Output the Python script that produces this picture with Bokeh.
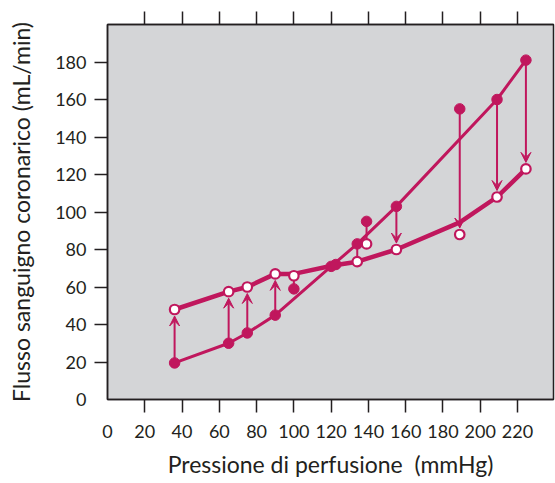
from bokeh.plotting import figure
from bokeh.models import (ColumnDataSource, FixedTicker, LinearAxis, Arrow,
                          VeeHead, Range1d)
from bokeh.embed import file_html
from bokeh.resources import INLINE

# ---- data ----
pressure  = [36, 65, 75, 90, 100, 120, 134, 139, 155, 189, 209, 224.5]
immediate = [19.5, 30, 35.5, 45, 59, 71, 83, 95, 103, 155, 160, 181]
steady    = [48, 57.5, 60, 67, 66, 71.5, 73.5, 83, 80, 88, 108, 123]

imm_line_x = [36, 65, 75, 90, 120, 134, 155, 209, 224.5]
imm_line_y = [19.5, 30, 35.5, 45, 71, 83, 103, 160, 181]
ss_line_x = [36, 65, 75, 90, 100, 121, 134, 155, 189, 209, 224.5]
ss_line_y = [48, 57.5, 60, 67, 67, 71.5, 73.5, 80, 94.5, 108, 123]

cross_x = [122.5]
cross_y = [72]

x_labels = [0, 20, 40, 60, 80, 100, 120, 140, 160, 180, 200, 220]
x_marks = [20, 40, 60, 80, 100, 120, 140, 160, 180, 200, 220]
y_labels = [0, 20, 40, 60, 80, 100, 120, 140, 160, 180]
y_marks = [20, 40, 60, 80, 100, 120, 140, 160, 180]

# ---- styling ----
RED = "#C0175D"
INK = "#231F20"
FONT = "Lato"
PX_Y = 375 / 200.0     # px per unit y

p = figure(width=555, height=483, x_range=Range1d(0, 239.3), y_range=Range1d(0, 200),
           output_backend="svg", toolbar_location=None,
           min_border_left=107, min_border_right=2, min_border_top=24, min_border_bottom=84)
p.background_fill_color = "#D4D5D7"
p.border_fill_color = "white"
p.outline_line_color = INK
p.outline_line_width = 1.5
p.xgrid.visible = False
p.ygrid.visible = False

def style_axis(ax, labels, marks):
    ax.ticker = FixedTicker(ticks=labels, minor_ticks=marks)
    ax.major_tick_in = 0
    ax.major_tick_out = 13
    ax.major_tick_line_color = None
    ax.minor_tick_in = 0
    ax.minor_tick_out = 13
    ax.minor_tick_line_color = INK
    ax.minor_tick_line_width = 1.5
    ax.axis_line_color = INK
    ax.axis_line_width = 1.5
    ax.major_label_text_font = FONT
    ax.major_label_text_font_size = "18px"
    ax.major_label_text_color = INK
    ax.axis_label_text_font = FONT
    ax.axis_label_text_font_size = "23px"
    ax.axis_label_text_font_style = "normal"
    ax.axis_label_text_color = INK

style_axis(p.xaxis[0], x_labels, x_marks)
style_axis(p.yaxis[0], y_labels, y_marks)
p.xaxis.axis_label = "Pressione di perfusione\u00a0\u00a0(mmHg)"
p.yaxis.axis_label = "Flusso sanguigno coronarico (mL/min)"
p.xaxis.major_label_standoff = 12
p.yaxis.major_label_standoff = 8
p.xaxis.axis_label_standoff = 9
p.yaxis.axis_label_standoff = 17

top = LinearAxis()
top.ticker = FixedTicker(ticks=x_marks)
top.minor_tick_line_color = None
top.major_tick_in = 0
top.major_tick_out = 13
top.major_tick_line_color = INK
top.major_tick_line_width = 1.5
top.axis_line_color = INK
top.axis_line_width = 1.5
top.major_label_overrides = {t: "" for t in x_marks}
top.major_label_standoff = 0
p.add_layout(top, "above")

# lines
p.line(ss_line_x, ss_line_y, line_color=RED, line_width=4.5)
p.line(imm_line_x, imm_line_y, line_color=RED, line_width=3)

# arrows / connectors from immediate to steady values
r_off_y = 6.5 / PX_Y
arr = {"x0": [], "y0": [], "x1": [], "y1": []}
seg = {"x0": [], "y0": [], "x1": [], "y1": []}
for x, a, s in zip(pressure, immediate, steady):
    gap_px = abs(s - a) * PX_Y
    if gap_px < 2:
        continue
    sign = 1 if s > a else -1
    if gap_px > 40:
        arr["x0"].append(x); arr["y0"].append(a)
        arr["x1"].append(x); arr["y1"].append(s - sign * r_off_y)
    else:
        seg["x0"].append(x); seg["y0"].append(a)
        seg["x1"].append(x); seg["y1"].append(s)

p.segment("x0", "y0", "x1", "y1", source=ColumnDataSource(seg), line_color=RED, line_width=2)
p.add_layout(Arrow(end=VeeHead(size=10, fill_color=RED, line_color=RED, line_width=1),
                   x_start="x0", y_start="y0", x_end="x1", y_end="y1",
                   source=ColumnDataSource(arr), line_color=RED, line_width=2))

# markers
imm_pts = [(x, a) for x, a, s in zip(pressure, immediate, steady) if abs(s - a) > 1]
p.scatter([q[0] for q in imm_pts], [q[1] for q in imm_pts], size=10.5,
          fill_color=RED, line_color=RED)
p.scatter([120], [71], size=10.5, fill_color=RED, line_color=RED)
p.scatter(cross_x, cross_y, size=10.5, fill_color=RED, line_color=RED)
ss_pts = [(x, s) for x, a, s in zip(pressure, immediate, steady) if abs(s - a) > 1]
p.scatter([q[0] for q in ss_pts], [q[1] for q in ss_pts], size=9.5,
          fill_color="white", line_color=RED, line_width=2.2)

open("out.html", "w").write(file_html(p, INLINE))
